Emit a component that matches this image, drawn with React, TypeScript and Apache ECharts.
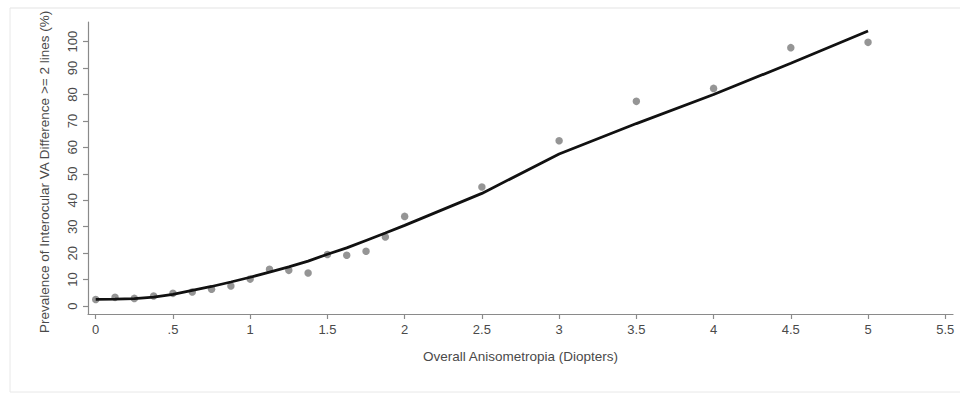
import React, { useEffect, useRef } from "react";
import * as echarts from "echarts";

// Observed prevalence points (grey dots)
const pointX = [0, 0.125, 0.25, 0.375, 0.5, 0.625, 0.75, 0.875, 1.0, 1.125, 1.25, 1.375, 1.5, 1.625, 1.75, 1.875, 2.0, 2.5, 3.0, 3.5, 4.0, 4.5, 5.0];
const pointY = [2.5, 3.3, 2.9, 3.8, 4.8, 5.3, 6.4, 7.6, 10.2, 13.9, 13.5, 12.5, 19.5, 19.2, 20.7, 26.1, 33.9, 45.0, 62.5, 77.4, 82.3, 97.7, 99.7];

// Smoothed (lowess) curve
const curveX = [0, 0.125, 0.25, 0.375, 0.5, 0.625, 0.75, 0.875, 1.0, 1.125, 1.25, 1.375, 1.5, 1.625, 1.75, 1.875, 2.0, 2.5, 3.0, 3.5, 4.0, 4.5, 5.0];
const curveY = [2.5, 2.6, 2.8, 3.4, 4.4, 5.9, 7.4, 9.1, 10.9, 12.8, 14.8, 17.0, 19.6, 22.0, 24.8, 27.6, 30.5, 42.6, 57.5, 69.0, 80.0, 91.8, 104.0];

const xTicks = [0, 0.5, 1, 1.5, 2, 2.5, 3, 3.5, 4, 4.5, 5, 5.5];
const yTicks = [0, 10, 20, 30, 40, 50, 60, 70, 80, 90, 100];

const xTitle = "Overall Anisometropia (Diopters)";
const yTitle = "Prevalence of Interocular VA Difference >= 2 lines (%)";

const FONT = "'Liberation Sans', Arial, Helvetica, sans-serif";

export default function App() {
  const ref = useRef<HTMLDivElement>(null);

  useEffect(() => {
    document.body.style.margin = "0";
    if (!ref.current) return;
    const chart = echarts.init(ref.current, undefined, { renderer: "svg" });

    const xLabel = (v: number) => {
      if (v === 0.5) return ".5";
      return String(v);
    };

    chart.setOption({
      animation: false,
      backgroundColor: "#ffffff",
      grid: {
        left: 88,
        right: 7,
        top: 22,
        bottom: 79,
        containLabel: false,
        outerBoundsMode: "none",
      },
      xAxis: {
        type: "value",
        min: -0.05,
        max: 5.55,
        name: xTitle,
        nameLocation: "middle",
        nameGap: 35,
        nameTextStyle: { color: "#4a4a4a", fontSize: 13.5, fontFamily: FONT },
        axisLine: { show: true, onZero: false, lineStyle: { color: "#8a8a8a", width: 1.2 } },
        axisTick: { show: true, length: 5, customValues: xTicks, lineStyle: { color: "#8a8a8a", width: 1.2 } },
        axisLabel: {
          customValues: xTicks,
          formatter: xLabel,
          color: "#4a4a4a",
          fontSize: 13,
          fontFamily: FONT,
          margin: 9,
        },
        splitLine: { show: false },
      },
      yAxis: {
        type: "value",
        min: -3,
        max: 107.4,
        axisLine: { show: true, onZero: false, lineStyle: { color: "#8a8a8a", width: 1.2 } },
        axisTick: { show: true, length: 5, customValues: yTicks, lineStyle: { color: "#8a8a8a", width: 1.2 } },
        axisLabel: {
          customValues: yTicks,
          rotate: 90,
          color: "#4a4a4a",
          fontSize: 13,
          fontFamily: FONT,
          margin: 9,
        },
        splitLine: { show: false },
      },
      graphic: [
        {
          type: "text",
          x: 44,
          y: 333,
          rotation: Math.PI / 2,
          z: 10,
          style: {
            text: yTitle,
            fill: "#4a4a4a",
            font: `13.5px ${FONT}`,
            align: "left",
            verticalAlign: "middle",
          },
        },
        {
          type: "line",
          z: 21,
          shape: { x1: 10, y1: 8, x2: 960, y2: 8 },
          style: { stroke: "#e4e4e4", lineWidth: 1.2 },
        },
        {
          type: "line",
          z: 21,
          shape: { x1: 10, y1: 8, x2: 10, y2: 392 },
          style: { stroke: "#e8e8e8", lineWidth: 1 },
        },
        {
          type: "line",
          z: 21,
          shape: { x1: 10, y1: 392, x2: 960, y2: 392 },
          style: { stroke: "#e8e8e8", lineWidth: 1 },
        },
      ],
      series: [
        {
          type: "scatter",
          data: pointX.map((x, i) => [x, pointY[i]]),
          symbol: "circle",
          symbolSize: 7.5,
          itemStyle: { color: "#7b7b7b" },
          z: 2,
        },
        {
          type: "line",
          data: curveX.map((x, i) => [x, curveY[i]]),
          showSymbol: false,
          symbol: "none",
          smooth: false,
          lineStyle: { color: "#111111", width: 2.8 },
          z: 3,
        },
      ],
    });

    return () => {
      chart.dispose();
    };
  }, []);

  return <div ref={ref} style={{ width: 960, height: 393 }} />;
}
